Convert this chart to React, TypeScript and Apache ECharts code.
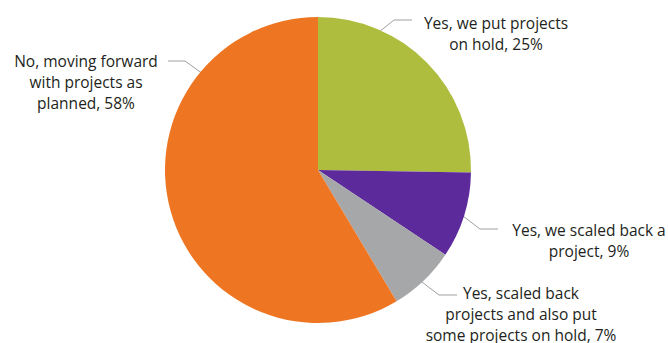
import React, { useEffect, useRef } from "react";
import * as echarts from "echarts";

const categories = [
  "Yes, we put projects\non hold",
  "Yes, we scaled back a\nproject",
  "Yes, scaled back\nprojects and also put\nsome projects on hold",
  "No, moving forward\nwith projects as\nplanned",
];
const values = [25, 9, 7, 58];
const colors = ["#AFBD3F", "#5D2A9C", "#A6A7A9", "#EE7623"];

// label layout (text centre, leader line points) per slice
const labelPos = [
  { x: 496, y: 33, line: [[369, 40], [394, 20], [412, 20]] },
  { x: 589, y: 240, line: [[455, 210], [480, 229], [498, 229]] },
  { x: 521, y: 314, line: [[414, 276], [439, 295], [457, 295]] },
  { x: 86, y: 82, line: [[210, 79], [185, 61], [168, 61]] },
];

export default function App() {
  const ref = useRef<HTMLDivElement>(null);
  useEffect(() => {
    if (!ref.current) return;
    const chart = echarts.init(ref.current, undefined, { renderer: "svg" });
    chart.setOption({
      animation: false,
      series: [
        {
          type: "pie",
          center: [318, 170],
          radius: 153,
          startAngle: 90,
          clockwise: true,
          silent: true,
          data: categories.map((c, i) => ({
            name: c,
            value: values[i],
            itemStyle: { color: colors[i] },
          })),
          itemStyle: { borderWidth: 0 },
          label: {
            show: true,
            formatter: (p: any) => `${p.name}, ${p.value}%`,
            fontFamily: "Open Sans",
            fontSize: 15.5,
            lineHeight: 21,
            color: "#231F20",
            align: "center",
            overflow: "none",
          },
          labelLine: {
            show: true,
            lineStyle: { color: "#A0A0A0", width: 1 },
          },
          labelLayout: (params: any) => {
            const l = labelPos[params.dataIndex];
            return {
              x: l.x,
              y: l.y,
              align: "center",
              verticalAlign: "middle",
              width: 300,
              labelLinePoints: l.line,
            };
          },
        },
      ],
    });
    return () => chart.dispose();
  }, []);
  return (
    <div
      ref={ref}
      style={{ position: "fixed", left: 0, top: 0, width: 668, height: 343, background: "#fff" }}
    />
  );
}
